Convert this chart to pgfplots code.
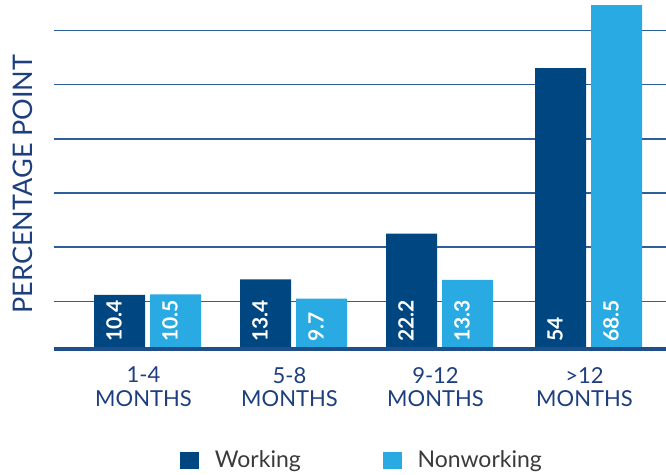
\documentclass[border=0pt]{standalone}
\usepackage{pgfplots}
\pgfplotsset{compat=1.18}
\usepackage{fontspec}
\setmainfont{Lato}
\definecolor{darkbar}{HTML}{004781}
\definecolor{lightbar}{HTML}{29AAE2}
\definecolor{gridc}{HTML}{2E5F9A}
\definecolor{basec}{HTML}{1F4F8A}
\definecolor{txt}{HTML}{1D3F7E}
\definecolor{legtext}{HTML}{3A3A3A}
\pgfplotsset{
  barlabel/.style={draw=none, mark=none, forget plot,
    nodes near coords, point meta=explicit symbolic,
    nodes near coords align={anchor=base west},
    every node near coord/.style={font=\bfseries\fontsize{21}{21}\selectfont, text=white,
      inner sep=0pt, xshift=2.2pt, yshift=7.3pt, rotate=90, anchor=base west}},
}
\begin{document}
\begin{tikzpicture}
\begin{axis}[
  at={(54pt,119.8pt)}, anchor=south west,
  scale only axis, width=612pt, height=348.4pt,
  xmin=54, xmax=666, ymin=-1, ymax=66,
  axis line style={draw=none},
  major tick length=0pt,
  ytick={9.2,19.6,30.0,40.4,50.8,61.2},
  yticklabels={},
  ymajorgrids, grid style={line width=1.2pt, gridc},
  xtick={147.5,293.5,439.5,588.5},
  xticklabels={{1-4\\MONTHS},{5-8\\MONTHS},{9-12\\MONTHS},{>12\\MONTHS}},
  xticklabel style={align=center, anchor=north, inner sep=0pt, yshift=-12.8pt, xshift=-4pt,
    font=\fontsize{22}{23.5}\selectfont, text=txt},
  ylabel={PERCENTAGE POINT},
  every axis y label/.style={at={(axis description cs:-0.0507,0.4885)}, rotate=90, anchor=center,
    font=\fontsize{27}{30}\selectfont, text=txt},
  legend columns=2,
  legend style={at={(axis description cs:0.2059,-0.3037)}, anchor=west, draw=none, fill=none,
    inner sep=0pt, font=\fontsize{23}{28}\selectfont, text=legtext,
    nodes={inner sep=0pt},
    /tikz/every odd column/.append style={column sep=15.7pt},
    /tikz/every even column/.append style={column sep=82pt}},
  legend image code/.code={\fill[#1] (0pt,-8.5pt) rectangle (19pt,8.5pt);},
]
\addplot[ybar, bar width=51pt, bar shift=-28pt, draw=none, fill=darkbar]
  coordinates {(147.5,10.4) (293.5,13.4) (439.5,22.2) (588.5,54)};
\addlegendentry{Working}
\addplot[ybar, bar width=51pt, bar shift=28pt, draw=none, fill=lightbar]
  coordinates {(147.5,10.5) (293.5,9.7) (439.5,13.3) (588.5,68.5)};
\addlegendentry{Nonworking}
\addplot[line width=4.5pt, basec, forget plot] coordinates {(54,0) (666,0)};
\addplot[barlabel] coordinates {(119.5,0) [10.4] (265.5,0) [13.4] (411.5,0) [22.2] (560.5,0) [54]};
\addplot[barlabel] coordinates {(175.5,0) [10.5] (321.5,0) [9.7] (467.5,0) [13.3] (616.5,0) [68.5]};
\end{axis}
\pgfresetboundingbox
\path[use as bounding box] (0,0) rectangle (666pt,474pt);
\end{tikzpicture}
\end{document}
